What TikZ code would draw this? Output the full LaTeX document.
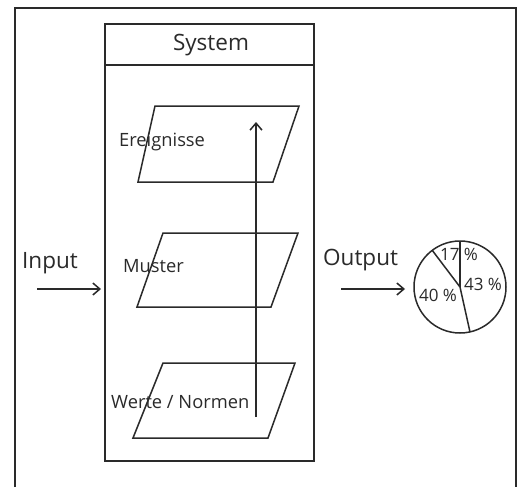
\documentclass[tikz,border=0pt]{standalone}
\usepackage{fontspec}
\setmainfont{Open Sans}
\usetikzlibrary{arrows.meta}
\definecolor{ink}{HTML}{2A2A2A}
\tikzset{
  line/.style={draw=ink,line width=1.5pt},
  flow/.style={draw=ink,line width=1.5pt,-{Straight Barb[length=7pt,width=12pt,line width=1.5pt]}},
  big/.style={text=ink,font=\fontsize{22.5}{24}\selectfont,inner sep=0pt},
  mid/.style={text=ink,font=\fontsize{18.3}{20}\selectfont,inner sep=0pt},
  small/.style={text=ink,font=\fontsize{17}{18}\selectfont,inner sep=0pt}
}
\begin{document}
\begin{tikzpicture}[x=1pt,y=-1pt]
\useasboundingbox (0,0) rectangle (524,487);
\fill[white] (0,0) rectangle (524,487);
% outer frame
\draw[line] (15,487) -- (15,8) -- (516,8) -- (516,487);
% system box
\draw[line] (105,24) rectangle (314,461);
\draw[line] (105,65) -- (314,65);
\node[big,anchor=center] (sys) at (211,45) {System};
% layers
\draw[line] (155,106) -- (299,106) -- (273,182) -- (138,182) -- cycle;
\draw[line] (163,233) -- (298,233) -- (271,307) -- (137,307) -- cycle;
\draw[line] (163,363) -- (295,363) -- (268,438) -- (133,438) -- cycle;
\node[mid,anchor=west] (ereig) at (119,142) {Ereignisse};
\node[mid,anchor=west] (muster) at (123,266) {Muster};
\node[mid,anchor=west] (werte) at (111,402) {Werte / Normen};
% vertical arrow
\coordinate (vbot) at (256,417);
\coordinate (vtop) at (256,122);
\draw[flow] (vbot) -- (vtop);
% input
\node[big,anchor=west] (inp) at (22,263) {Input};
\coordinate (in1) at (37,289);
\coordinate (in2) at (101,289);
\draw[flow] (in1) -- (in2);
% output
\node[big,anchor=west] (outp) at (323,260) {Output};
\coordinate (out1) at (341,289);
\coordinate (out2) at (405,289);
\draw[flow] (out1) -- (out2);
% pie
\node[circle,draw=ink,line width=1.5pt,minimum size=92pt,inner sep=0pt] (pie) at (460,287) {};
\draw[line] (pie.center) -- (460,241);
\draw[line] (pie.center) -- (432,250);
\draw[line] (pie.center) -- (470,332);
\node[small,anchor=center] (p17) at (459,254) {17 \%};
\node[small,anchor=center] (p43) at (483,284) {43 \%};
\node[small,anchor=center] (p40) at (438,295) {40 \%};
\end{tikzpicture}
\end{document}
